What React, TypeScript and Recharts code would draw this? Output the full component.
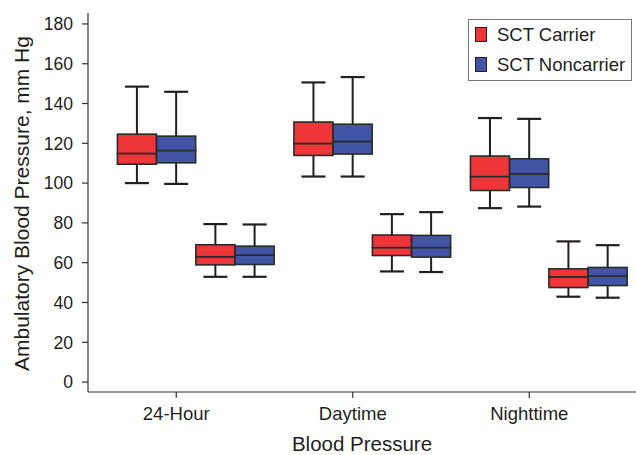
import React from 'react';
import { BarChart, Bar, XAxis, YAxis, Legend, Label } from 'recharts';

const periods = ['24-Hour', 'Daytime', 'Nighttime'];
const measures = ['Systolic', 'Diastolic'];
const groups = ['SCT Carrier', 'SCT Noncarrier'];
const groupColors = ['#EE3538', '#4254A5'];
const yTicks = [0, 20, 40, 60, 80, 100, 120, 140, 160, 180];

// five-number summaries [min, q1, median, q3, max]
// order: 24-Hour systolic, 24-Hour diastolic, Daytime sys, Daytime dia, Nighttime sys, Nighttime dia
const carrierStats = [
  [100.0, 109.5, 114.9, 124.6, 148.5],
  [52.9, 58.9, 63.0, 69.0, 79.4],
  [103.3, 113.9, 119.9, 130.7, 150.6],
  [55.6, 63.6, 67.6, 73.9, 84.4],
  [87.4, 96.3, 103.3, 113.6, 132.7],
  [42.9, 47.5, 52.9, 56.9, 70.7],
];
const noncarrierStats = [
  [99.6, 110.2, 116.4, 123.6, 145.9],
  [52.9, 59.1, 63.8, 68.3, 79.2],
  [103.3, 114.6, 120.9, 129.6, 153.3],
  [55.3, 62.8, 67.6, 73.7, 85.4],
  [88.2, 97.8, 104.7, 112.2, 132.3],
  [42.4, 48.5, 53.3, 57.6, 68.8],
];

const ink = '#231F20';
const font = '"Liberation Sans", Arial, Helvetica, sans-serif';

// slot layout on the numeric x axis: 4 adjacent boxes per period, 1.5 slot gap between periods
const periodStep = 4.5;
const tickPositions = periods.map((_, p) => p * periodStep + 1);

const statsByGroup = [carrierStats, noncarrierStats];
const rows = periods.flatMap((period, p) =>
  measures.flatMap((measure, m) =>
    groups.map((_, g) => {
      const [min, q1, med, q3, max] = statsByGroup[g][p * 2 + m];
      return {
        x: p * periodStep + m * 2 + g,
        period,
        measure,
        group: g,
        base: min,
        lowWhisker: q1 - min,
        lowBox: med - q1,
        highBox: q3 - med,
        highWhisker: max - q3,
      };
    })
  )
);

const CAP = 12;

function LowWhisker(props: any) {
  const { x, y, width, height } = props;
  const cx = x + width / 2;
  return (
    <g>
      <line x1={cx} x2={cx} y1={y} y2={y + height} stroke={ink} strokeWidth={2} />
      <line x1={cx - CAP} x2={cx + CAP} y1={y + height} y2={y + height} stroke={ink} strokeWidth={2.2} />
    </g>
  );
}

function HighWhisker(props: any) {
  const { x, y, width, height } = props;
  const cx = x + width / 2;
  return (
    <g>
      <line x1={cx} x2={cx} y1={y} y2={y + height} stroke={ink} strokeWidth={2} />
      <line x1={cx - CAP} x2={cx + CAP} y1={y} y2={y} stroke={ink} strokeWidth={2.2} />
    </g>
  );
}

function BoxPart(props: any) {
  const { x, y, width, height, payload } = props;
  return (
    <rect
      x={x}
      y={y}
      width={width}
      height={height}
      fill={groupColors[payload.group]}
      stroke="#2A2A2A"
      strokeWidth={1.6}
    />
  );
}

function renderLegend() {
  return (
    <div
      style={{
        boxSizing: 'border-box',
        width: 164,
        height: 62,
        border: '1px solid #777',
        background: '#fff',
        position: 'relative',
        fontFamily: font,
        fontSize: 18.5,
        color: ink,
        lineHeight: 'normal',
      }}
    >
      {groups.map((g, i) => (
        <div
          key={g}
          style={{
            position: 'absolute',
            left: 6,
            top: 7 + i * 30,
            height: 15,
            display: 'flex',
            alignItems: 'center',
            whiteSpace: 'nowrap',
          }}
        >
          <span
            style={{
              boxSizing: 'border-box',
              display: 'inline-block',
              width: 12,
              height: 15,
              background: groupColors[i],
              border: `1px solid ${ink}`,
              marginRight: 10,
            }}
          />
          <span>{g}</span>
        </div>
      ))}
    </div>
  );
}

function renderYLabel(props: any) {
  const vb = props.viewBox || { x: 0, y: 13, width: 88, height: 379 };
  const cx = 28.5;
  const cy = vb.y + vb.height / 2 + 1;
  return (
    <text
      x={cx}
      y={cy}
      transform={`rotate(-90, ${cx}, ${cy})`}
      textAnchor="middle"
      fill={ink}
      fontSize={21}
      fontFamily={font}
    >
      Ambulatory Blood Pressure, mm Hg
    </text>
  );
}

export default function App() {
  return (
    <div style={{ position: 'absolute', left: 0, top: 0, background: '#fff' }}>
      <BarChart
        width={636}
        height={455}
        data={rows}
        margin={{ top: 13, right: 0, bottom: 0, left: 0 }}
        style={{ fontFamily: font }}
      >
        <XAxis
          dataKey="x"
          type="number"
          domain={[-1.25, 12.72]}
          allowDataOverflow
          ticks={tickPositions}
          interval={0}
          tickFormatter={(v: number) => periods[tickPositions.indexOf(v)] ?? ''}
          height={63}
          tickSize={6}
          tickMargin={9}
          axisLine={{ stroke: '#333', strokeWidth: 1.2 }}
          tickLine={{ stroke: '#333', strokeWidth: 1.2 }}
          tick={{ fill: ink, fontSize: 18.5 }}
        >
          <Label value="Blood Pressure" position="insideBottom" offset={4} fill={ink} fontSize={20.5} />
        </XAxis>
        <YAxis
          type="number"
          domain={[-5, 185.5]}
          allowDataOverflow
          ticks={yTicks}
          interval={0}
          width={88}
          tickSize={6}
          tickMargin={9}
          axisLine={{ stroke: '#333', strokeWidth: 1.2 }}
          tickLine={{ stroke: '#333', strokeWidth: 1.2 }}
          tick={{ fill: ink, fontSize: 17.6 }}
        >
          <Label content={renderYLabel} />
        </YAxis>
        <Legend
          layout="vertical"
          align="center"
          verticalAlign="middle"
          content={renderLegend}
          wrapperStyle={{ top: 19, left: 468, width: 164, height: 62 }}
        />
        <Bar dataKey="base" stackId="box" fill="transparent" barSize={39} isAnimationActive={false} />
        <Bar dataKey="lowWhisker" stackId="box" shape={LowWhisker} barSize={39} isAnimationActive={false} />
        <Bar dataKey="lowBox" stackId="box" shape={BoxPart} barSize={39} isAnimationActive={false} />
        <Bar dataKey="highBox" stackId="box" shape={BoxPart} barSize={39} isAnimationActive={false} />
        <Bar dataKey="highWhisker" stackId="box" shape={HighWhisker} barSize={39} isAnimationActive={false} />
      </BarChart>
    </div>
  );
}
